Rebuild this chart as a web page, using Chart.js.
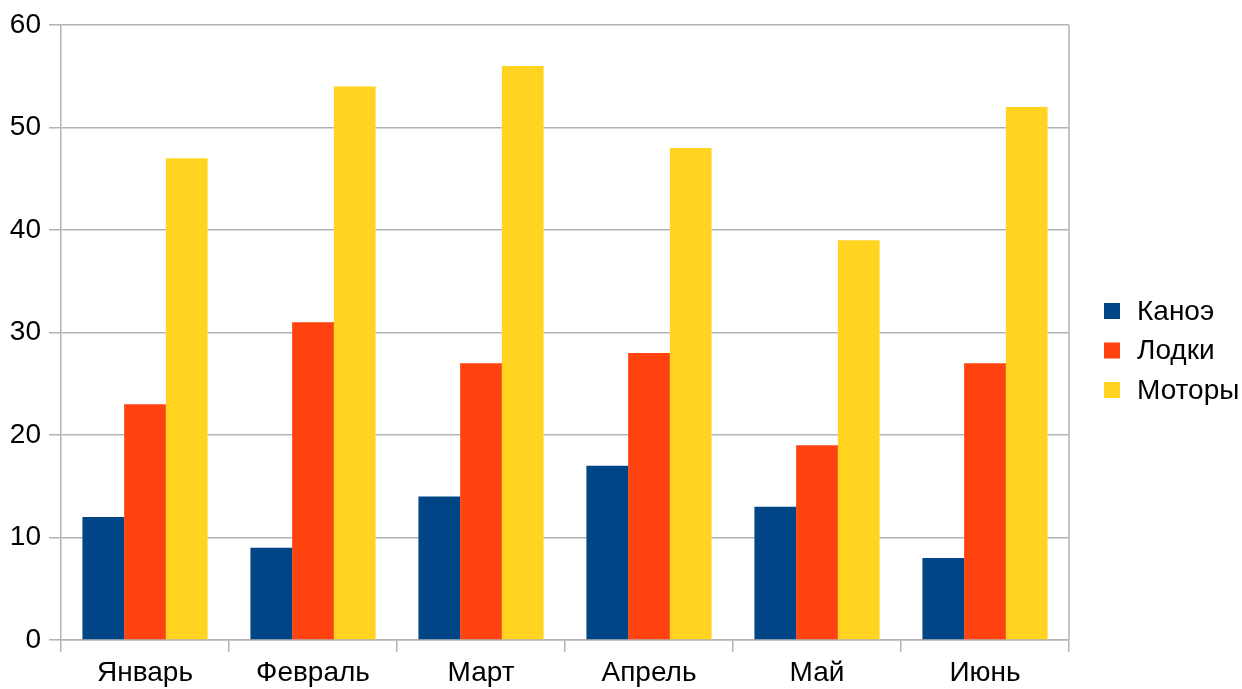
<!DOCTYPE html>
<html>
<head>
<meta charset="utf-8">
<script src="https://cdn.jsdelivr.net/npm/chart.js@4/dist/chart.umd.min.js"></script>
<style>
html,body{margin:0;padding:0;background:#fff;}
#wrap{width:1242px;height:689px;}
</style>
</head>
<body>
<div id="wrap"><canvas id="c" width="1242" height="689"></canvas></div>
<script>
const categories = ['Январь','Февраль','Март','Апрель','Май','Июнь'];
const kanoe = [12, 9, 14, 17, 13, 8];
const lodki = [23, 31, 27, 28, 19, 27];
const motory = [47, 54, 56, 48, 39, 52];
const seriesNames = ['Каноэ','Лодки','Моторы'];
const seriesColors = ['#004586','#ff420e','#ffd320'];
const yTicks = [0,10,20,30,40,50,60];

const FONT = "'Liberation Sans', Arial, sans-serif";
const GRID = '#b3b3b3';

const legendPlugin = {
  id: 'sideLegend',
  afterDraw(chart) {
    const ctx = chart.ctx;
    const area = chart.chartArea;
    ctx.save();
    ctx.strokeStyle = GRID;
    ctx.lineWidth = 1.5;
    ctx.beginPath();
    ctx.moveTo(area.right, area.top);
    ctx.lineTo(area.right, area.bottom);
    ctx.stroke();
    const n = chart.data.datasets.length;
    const spacing = 39.5;
    const cy = (area.top + area.bottom) / 2 + 18;
    const startY = cy - spacing * (n - 1) / 2;
    ctx.font = '28px ' + FONT;
    ctx.textBaseline = 'middle';
    ctx.textAlign = 'left';
    chart.data.datasets.forEach((ds, i) => {
      const y = startY + i * spacing;
      ctx.fillStyle = ds.backgroundColor;
      ctx.fillRect(1104, y - 8, 16, 16);
      ctx.fillStyle = '#000';
      ctx.fillText(ds.label, 1137, y + 1);
    });
    ctx.restore();
  }
};

new Chart(document.getElementById('c'), {
  type: 'bar',
  data: {
    labels: categories,
    datasets: [
      { label: seriesNames[0], data: kanoe, backgroundColor: seriesColors[0] },
      { label: seriesNames[1], data: lodki, backgroundColor: seriesColors[1] },
      { label: seriesNames[2], data: motory, backgroundColor: seriesColors[2] }
    ]
  },
  options: {
    responsive: false,
    animation: false,
    devicePixelRatio: 1,
    layout: { padding: { top: 25, right: 173, left: 0, bottom: 0 } },
    datasets: { bar: { categoryPercentage: 0.745, barPercentage: 1.0, borderWidth: 0 } },
    plugins: { legend: { display: false }, tooltip: { enabled: false } },
    scales: {
      x: {
        offset: true,
        grid: { display: true, offset: true, drawOnChartArea: false, drawTicks: true, tickLength: 12, color: GRID, lineWidth: 1.5 },
        border: { display: true, color: GRID, width: 1.5 },
        ticks: { color: '#000', font: { family: FONT, size: 28 }, padding: 4, maxRotation: 0 },
        afterFit(s) { s.height = 49; }
      },
      y: {
        min: 0, max: 60,
        afterBuildTicks(s) { s.ticks = yTicks.map(v => ({ value: v })); },
        grid: { color: GRID, lineWidth: 1.5, drawTicks: true, tickLength: 12 },
        border: { display: true, color: GRID, width: 1.5 },
        ticks: { color: '#000', font: { family: FONT, size: 28 }, padding: 8 },
        afterFit(s) { s.width = 61; }
      }
    }
  },
  plugins: [legendPlugin]
});
</script>
</body>
</html>
